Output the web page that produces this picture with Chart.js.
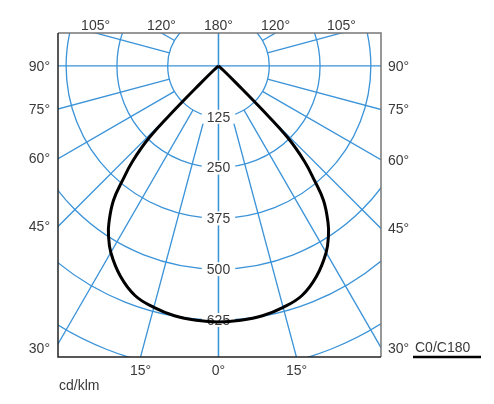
<!DOCTYPE html>
<html>
<head>
<meta charset="utf-8">
<script src="https://cdn.jsdelivr.net/npm/chart.js@4.4.0/dist/chart.umd.min.js"></script>
<style>
  html, body { margin: 0; padding: 0; background: #fff; }
  #wrap { width: 494px; height: 404px; }
</style>
</head>
<body>
<div id="wrap"><canvas id="polarChart" width="494" height="404"></canvas></div>
<script>
// Luminous intensity distribution (cd/klm), symmetric C0/C180 plane
const gammaAngles = [0, 5, 10, 15, 20, 25, 30, 33, 35, 38, 40, 42, 44, 45, 46, 48, 55, 60, 70, 80, 90];
const intensityC0 = [630, 628, 624, 615, 601, 571, 530, 497, 470, 420, 367, 317, 245, 150, 60, 15, 0, 0, 0, 0, 0];
const intensityC180 = [630, 628, 624, 615, 601, 571, 530, 497, 470, 420, 367, 317, 245, 150, 60, 15, 0, 0, 0, 0, 0];

// Grid
const ringValues = [125, 250, 375, 500, 625, 750];
const ringLabels = ['125', '250', '375', '500', '625'];
const spokeAngles = [0, 15, 30, 45, 60, 75, 90, 105, 120, 135, 150, 165, 180];
const labelledAngles = [0, 15, 30, 45, 60, 75, 90, 105, 120, 180];

const unitLabel = 'cd/klm';
const planeLabel = 'C0/C180';

const gridColor = '#3b93d8';
const textColor = '#3a3a3a';
const font = '14px "Liberation Sans", Arial, sans-serif';

function toXY(gamma, value, side) {
    const rad = gamma * Math.PI / 180;
    return { x: side * value * Math.sin(rad), y: -value * Math.cos(rad) };
}

// C180 goes on the left, C0 on the right
const curvePoints = [];
for (let i = gammaAngles.length - 1; i >= 0; i--) {
    curvePoints.push(toXY(gammaAngles[i], intensityC180[i], -1));
}
for (let i = 1; i < gammaAngles.length; i++) {
    curvePoints.push(toXY(gammaAngles[i], intensityC0[i], 1));
}

const polarGrid = {
    id: 'polarGrid',
    beforeDatasetsDraw(chart) {
        const ctx = chart.ctx;
        const area = chart.chartArea;
        const xs = chart.scales.x;
        const ys = chart.scales.y;
        const cx = xs.getPixelForValue(0);
        const cy = ys.getPixelForValue(0);
        const px = p => [xs.getPixelForValue(p.x), ys.getPixelForValue(p.y)];

        ctx.save();
        ctx.beginPath();
        ctx.rect(area.left, area.top, area.right - area.left, area.bottom - area.top);
        ctx.clip();
        ctx.strokeStyle = gridColor;
        ctx.lineWidth = 1.3;

        ringValues.forEach(v => {
            const r = xs.getPixelForValue(v) - cx;
            ctx.beginPath();
            ctx.arc(cx, cy, r, 0, Math.PI * 2);
            ctx.stroke();
        });

        spokeAngles.forEach(a => {
            const start = (a % 90 === 0) ? 0 : ringValues[0];
            [-1, 1].forEach(side => {
                const p0 = px(toXY(a, start, side));
                const p1 = px(toXY(a, 3000, side));
                ctx.beginPath();
                ctx.moveTo(p0[0], p0[1]);
                ctx.lineTo(p1[0], p1[1]);
                ctx.stroke();
            });
        });
        ctx.restore();

        // ring value labels on the 0° spoke
        ctx.save();
        ctx.font = font;
        ctx.textAlign = 'center';
        ctx.textBaseline = 'middle';
        ringLabels.forEach((t, i) => {
            const y = ys.getPixelForValue(-ringValues[i]);
            const w = ctx.measureText(t).width;
            ctx.fillStyle = '#fff';
            ctx.fillRect(cx - w / 2 - 5, y - 7, w + 10, 14);
            ctx.fillStyle = textColor;
            ctx.fillText(t, cx, y + 1);
        });
        ctx.restore();
    },
    afterDraw(chart) {
        const ctx = chart.ctx;
        const area = chart.chartArea;
        const xs = chart.scales.x;
        const ys = chart.scales.y;
        const cx = xs.getPixelForValue(0);
        const cy = ys.getPixelForValue(0);

        // frame
        ctx.save();
        ctx.lineWidth = 1.5;
        ctx.strokeStyle = '#777';
        ctx.beginPath();
        ctx.moveTo(area.left, area.top);
        ctx.lineTo(area.right, area.top);
        ctx.lineTo(area.right, area.bottom);
        ctx.stroke();
        ctx.strokeStyle = '#222';
        ctx.beginPath();
        ctx.moveTo(area.left, area.top);
        ctx.lineTo(area.left, area.bottom);
        ctx.lineTo(area.right, area.bottom);
        ctx.stroke();

        // angle labels where each spoke leaves the frame
        ctx.font = font;
        ctx.fillStyle = textColor;
        labelledAngles.forEach(a => {
            const sides = (a === 0 || a === 180) ? [1] : [-1, 1];
            sides.forEach(side => {
                const rad = a * Math.PI / 180;
                const dx = side * Math.sin(rad);
                const dy = Math.cos(rad); // pixel y grows downward
                let best = Infinity, edge = '';
                if (dx > 1e-6) { const t = (area.right - cx) / dx; if (t < best) { best = t; edge = 'right'; } }
                if (dx < -1e-6) { const t = (area.left - cx) / dx; if (t < best) { best = t; edge = 'left'; } }
                if (dy > 1e-6) { const t = (area.bottom - cy) / dy; if (t < best) { best = t; edge = 'bottom'; } }
                if (dy < -1e-6) { const t = (area.top - cy) / dy; if (t < best) { best = t; edge = 'top'; } }
                const x = cx + dx * best;
                let y = cy + dy * best;
                if (area.bottom - y < 20) y = area.bottom - 9;
                const txt = a + '°';
                if (edge === 'left') {
                    ctx.textAlign = 'right'; ctx.textBaseline = 'middle';
                    ctx.fillText(txt, area.left - 8, y + 1);
                } else if (edge === 'right') {
                    ctx.textAlign = 'left'; ctx.textBaseline = 'middle';
                    ctx.fillText(txt, area.right + 7, y + 1);
                } else if (edge === 'top') {
                    ctx.textAlign = 'center'; ctx.textBaseline = 'middle';
                    ctx.fillText(txt, x, area.top - 7);
                } else {
                    ctx.textAlign = 'center'; ctx.textBaseline = 'middle';
                    ctx.fillText(txt, x, area.bottom + 14);
                }
            });
        });

        // unit and legend
        ctx.textAlign = 'left';
        ctx.textBaseline = 'middle';
        ctx.fillText(unitLabel, area.left + 1, area.bottom + 29);
        ctx.fillText(planeLabel, 415, area.bottom - 9);
        ctx.strokeStyle = '#000';
        ctx.lineWidth = 2.5;
        ctx.beginPath();
        ctx.moveTo(413, area.bottom);
        ctx.lineTo(481, area.bottom);
        ctx.stroke();
        ctx.restore();
    }
};

const ctx = document.getElementById('polarChart').getContext('2d');
new Chart(ctx, {
    type: 'scatter',
    data: {
        datasets: [{
            label: planeLabel,
            data: curvePoints,
            showLine: true,
            borderColor: '#000',
            borderWidth: 3,
            pointRadius: 0,
            tension: 0.4,
            fill: false
        }]
    },
    options: {
        responsive: false,
        animation: false,
        layout: {
            padding: { left: 58, top: 33, right: 113, bottom: 47 }
        },
        scales: {
            x: { type: 'linear', min: -395, max: 400, display: false },
            y: { type: 'linear', min: -716, max: 81, display: false }
        },
        plugins: {
            legend: { display: false },
            tooltip: { enabled: false }
        }
    },
    plugins: [polarGrid]
});
</script>
</body>
</html>
